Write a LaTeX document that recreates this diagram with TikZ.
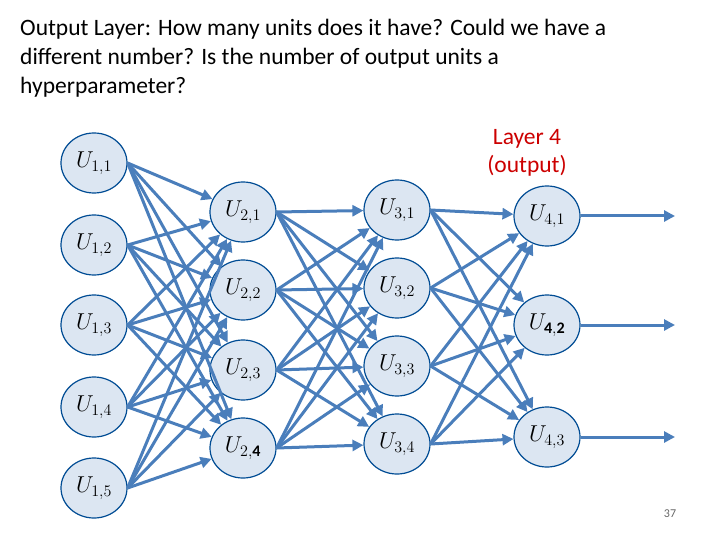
\documentclass[tikz,border=0pt]{standalone}
\usepackage{fix-cm}
\usepackage{fontspec}
\setmainfont{Carlito}
\begin{document}
\begin{tikzpicture}[x=1pt,y=-1pt,
  unit/.style={ellipse,draw=blue!40!black!70!cyan,fill=nodefill,line width=1.2pt,minimum width=66pt,minimum height=60pt,inner sep=0pt,font=\fontsize{23}{23}\selectfont},
  conn/.style={draw=linkc,line width=3pt,-{Triangle[length=11pt,width=11pt]}},
]
\usetikzlibrary{shapes.geometric,arrows.meta}
\definecolor{nodefill}{HTML}{DCE6F2}
\definecolor{linkc}{HTML}{4A7EBB}
\useasboundingbox (0,0) rectangle (720,540);
\node[anchor=north west,align=left,font=\fontsize{23.5}{29}\selectfont,inner sep=0pt] (title) at (20,19)
 {Output Layer: How many units does it have? Could we have a\\different number? Is the number of output units a\\hyperparameter?};
\node[align=center,text=red!80!black,font=\fontsize{23.5}{28}\selectfont] (lab) at (527,153) {Layer 4\\(output)};
\node[font=\fontsize{12}{12}\selectfont,text=gray!80!black] (pg) at (670,514) {37};
\foreach \i/\y/\l in {1/163/{1,1},2/245/{1,2},3/325/{1,3},4/407/{1,4},5/488/{1,5}}
  \node[unit] (a\i) at (94,\y) {$U_{\l}$};
\foreach \i/\y/\l in {1/212/{2,1},2/290/{2,2},3/370/{2,3},4/448/{2,\mathbf{4}}}
  \node[unit] (b\i) at (243,\y) {$U_{\l}$};
\foreach \i/\y/\l in {1/210/{3,1},2/288/{3,2},3/366/{3,3},4/444/{3,4}}
  \node[unit] (c\i) at (397,\y) {$U_{\l}$};
\foreach \i/\y/\l in {1/216/{4,1},2/325/{\mathbf{4,2}},3/437/{4,3}}
  \node[unit] (d\i) at (547,\y) {$U_{\l}$};
\foreach \i in {1,...,5} \foreach \j in {1,...,4}
  \draw[conn] (a\i.east) -- (b\j);
\foreach \i in {1,...,4} \foreach \j in {1,...,4}
  \draw[conn] (b\i.east) -- (c\j);
\foreach \i in {1,...,4} \foreach \j in {1,...,3}
  \draw[conn] (c\i.east) -- (d\j);
\foreach \j in {1,2,3} {
  \coordinate (o\j) at (675,0 |- d\j);
  \draw[conn] (d\j.east) -- (o\j);
}
\end{tikzpicture}
\end{document}
